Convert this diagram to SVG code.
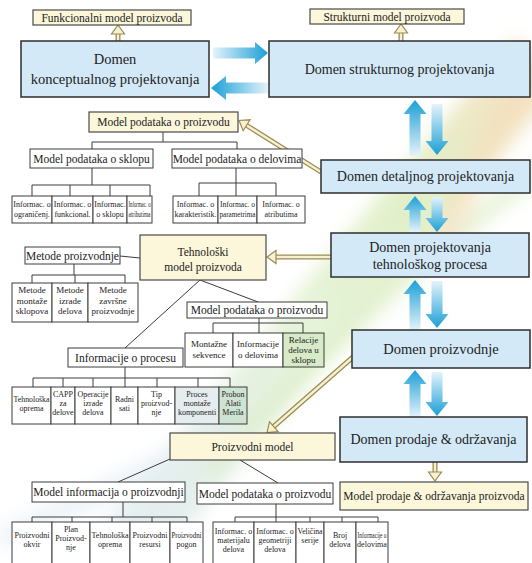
<svg xmlns="http://www.w3.org/2000/svg" xmlns:xlink="http://www.w3.org/1999/xlink" width="532" height="563" viewBox="0 0 532 563" font-family="'Liberation Serif', 'Times New Roman', serif">
  <defs>
    <style>
      text { font-family: "Liberation Serif", "Times New Roman", "DejaVu Serif", serif; fill: #222; text-anchor: middle; }
      .dom { fill: #d4e9f7; stroke: #2e2e2e; stroke-width: 1.5; }
      .ylw { fill: #fcf6da; stroke: #4a4a4a; stroke-width: 1.2; }
      .box { fill: #ffffff; stroke: #3c3c3c; stroke-width: 1; }
      .ln { fill: none; stroke: #3c3c3c; stroke-width: 1; }
      .t15 { font-size: 14.5px; }
      .t14 { font-size: 14px; }
      .t11 { font-size: 11.5px; }
      .t9 { font-size: 9px; }
      .t8 { font-size: 8px; }
      .dbl-o { fill: none; stroke: #9a8c52; stroke-width: 5; }
      .dbl-i { fill: none; stroke: #f7f0d2; stroke-width: 2.4; }
      .head { fill: #f7f0d2; stroke: #9a8c52; stroke-width: 1.2; stroke-linejoin: miter; }
    </style>
    <linearGradient id="gRight" x1="0" y1="0" x2="1" y2="0">
      <stop offset="0" stop-color="#e4f3fb"/>
      <stop offset="1" stop-color="#1b9fd6"/>
    </linearGradient>
    <linearGradient id="gLeft" x1="1" y1="0" x2="0" y2="0">
      <stop offset="0" stop-color="#e4f3fb"/>
      <stop offset="1" stop-color="#1b9fd6"/>
    </linearGradient>
    <linearGradient id="gUp" x1="0" y1="1" x2="0" y2="0">
      <stop offset="0" stop-color="#e4f3fb"/>
      <stop offset="1" stop-color="#1b9fd6"/>
    </linearGradient>
    <linearGradient id="gDown" x1="0" y1="0" x2="0" y2="1">
      <stop offset="0" stop-color="#e4f3fb"/>
      <stop offset="1" stop-color="#1b9fd6"/>
    </linearGradient>
    <linearGradient id="gSwoosh" gradientUnits="userSpaceOnUse" x1="120" y1="563" x2="532" y2="40">
      <stop offset="0" stop-color="#d6e4ef"/>
      <stop offset="0.45" stop-color="#d9edc6"/>
      <stop offset="0.7" stop-color="#d2e8ab"/>
      <stop offset="1" stop-color="#f5d2a4"/>
    </linearGradient>
    <filter id="soft" x="-20%" y="-20%" width="140%" height="140%">
      <feGaussianBlur stdDeviation="9"/>
    </filter>
    <!-- hollow arrowhead for the double-line links, tip at origin, pointing +x -->
    <path id="dh" class="head" d="M0,0 L-9,-6.5 L-9,6.5 Z"/>
  </defs>

  <rect width="532" height="563" fill="#ffffff"/>

  <!-- decorative background swoosh -->
  <g id="background" filter="url(#soft)" opacity="0.65">
    <path d="M110,570 C220,440 330,300 540,60" fill="none" stroke="url(#gSwoosh)" stroke-width="66"/>
    <path d="M210,470 C300,380 390,280 540,170" fill="none" stroke="#c6e3a0" stroke-width="16" opacity="0.7"/>
    <path d="M430,260 C470,190 500,120 540,60" fill="none" stroke="#f3c893" stroke-width="24" opacity="0.6"/>
    <path d="M0,540 C80,500 160,470 240,420" fill="none" stroke="#d4e3ee" stroke-width="20" opacity="0.7"/>
  </g>

  <!-- connectors -->
  <g id="connectors">
    <!-- blue exchange arrows between domains -->
    <path d="M213,47.5 H255 V42 L268,53 L255,64 V58.5 H213 Z" fill="url(#gRight)"/>
    <path d="M268,82.5 H226 V76 L211,88 L226,100 V93.5 H268 Z" fill="url(#gLeft)"/>

    <path d="M409.5,156 V114 H403.5 L415,100 L426.5,114 H420.5 V156 Z" fill="url(#gUp)"/>
    <path d="M431.5,104 V141 H425.5 L437,155 L448.5,141 H442.5 V104 Z" fill="url(#gDown)"/>

    <path d="M409.5,232 V210 H403.5 L415,196 L426.5,210 H420.5 V232 Z" fill="url(#gUp)"/>
    <path d="M431.5,197 V218 H425.5 L437,232 L448.5,218 H442.5 V197 Z" fill="url(#gDown)"/>

    <path d="M409.5,330 V294 H403.5 L415,280 L426.5,294 H420.5 V330 Z" fill="url(#gUp)"/>
    <path d="M431.5,281 V314 H425.5 L437,328 L448.5,314 H442.5 V281 Z" fill="url(#gDown)"/>

    <path d="M409.5,417 V384 H403.5 L415,370 L426.5,384 H420.5 V417 Z" fill="url(#gUp)"/>
    <path d="M431.5,372 V402 H425.5 L437,416 L448.5,402 H442.5 V372 Z" fill="url(#gDown)"/>

    <!-- double-line links from domains to models -->
    <path class="dbl-o" d="M118,41 V32"/><path class="dbl-i" d="M118,41 V32"/>
    <use xlink:href="#dh" transform="translate(118,25) rotate(-90)"/>

    <path class="dbl-o" d="M401,41 V31"/><path class="dbl-i" d="M401,41 V31"/>
    <use xlink:href="#dh" transform="translate(401,24) rotate(-90)"/>

    <path class="dbl-o" d="M321,172 L246,125"/><path class="dbl-i" d="M321,172 L246,125"/>
    <use xlink:href="#dh" transform="translate(239,120.5) rotate(212.2)"/>

    <path class="dbl-o" d="M331,257 H274"/><path class="dbl-i" d="M331,257 H274"/>
    <use xlink:href="#dh" transform="translate(267,257) rotate(180)"/>

    <path class="dbl-o" d="M353,357 L272,428"/><path class="dbl-i" d="M353,357 L272,428"/>
    <use xlink:href="#dh" transform="translate(267,432.5) rotate(138.9)"/>

    <path class="dbl-o" d="M435,462 V474"/><path class="dbl-i" d="M435,462 V474"/>
    <use xlink:href="#dh" transform="translate(435,481) rotate(90)"/>

    <!-- tree lines: product data model -->
    <path class="ln" d="M163,132 V142 M92,149 V142 H237 V149"/>
    <path class="ln" d="M92,168 V185 M32,196 V185 H150 V196 M70,185 V196 M110,185 V196"/>
    <path class="ln" d="M236,168 V183 M199,196 V183 H276 V196 M236,183 V196"/>

    <!-- tree lines: technological model -->
    <path class="ln" d="M120,256 L140,258"/>
    <path class="ln" d="M74,264 V275 M32,283 V275 H125 V283 M75,275 V283"/>
    <path class="ln" d="M200,280 L125,348 M200,280 L258,302"/>
    <path class="ln" d="M259,318 V323 M213,333 V323 H303 V333 M259,323 V333"/>
    <path class="ln" d="M125,367 V378 M33,387 V378 H230 V387 M63,378 V387 M93,378 V387 M125,378 V387 M157,378 V387 M198,378 V387"/>

    <!-- tree lines: production model -->
    <path class="ln" d="M170,459 L118,482 M240,460 L278,483"/>
    <path class="ln" d="M123,502 V517 M32,522 V517 H187 V522 M72,517 V522 M112,517 V522 M152,517 V522"/>
    <path class="ln" d="M276,504 V517 M235,522 V517 H378 V522 M276,517 V522 M310,517 V522 M342,517 V522"/>
  </g>

  <!-- domains -->
  <g id="domen-konceptualnog">
    <rect class="dom" x="21" y="41" width="188" height="56"/>
    <text class="t15" x="115" y="64">Domen</text>
    <text class="t15" x="115" y="84">konceptualnog projektovanja</text>
  </g>
  <g id="domen-strukturnog">
    <rect class="dom" x="269" y="41" width="261" height="56"/>
    <text class="t14" x="399.5" y="74">Domen strukturnog projektovanja</text>
  </g>
  <g id="domen-detaljnog">
    <rect class="dom" x="321" y="160" width="209" height="33"/>
    <text class="t14" x="425.5" y="181">Domen detaljnog projektovanja</text>
  </g>
  <g id="domen-tehnoloskog">
    <rect class="dom" x="331" y="233" width="198" height="44"/>
    <text class="t14" x="430" y="252">Domen projektovanja</text>
    <text class="t14" x="430" y="269">tehnološkog procesa</text>
  </g>
  <g id="domen-proizvodnje">
    <rect class="dom" x="352" y="330" width="178" height="38"/>
    <text class="t15" x="441" y="354">Domen proizvodnje</text>
  </g>
  <g id="domen-prodaje">
    <rect class="dom" x="340" y="417" width="187" height="45"/>
    <text class="t14" x="433.5" y="444">Domen prodaje &amp; održavanja</text>
  </g>

  <!-- models -->
  <g id="funkcionalni-model">
    <rect class="ylw" x="33" y="10" width="158" height="15"/>
    <text class="t11" x="112" y="21.5">Funkcionalni model proizvoda</text>
  </g>
  <g id="strukturni-model">
    <rect class="ylw" x="310" y="9" width="154" height="15"/>
    <text class="t11" x="387" y="20.5">Strukturni model proizvoda</text>
  </g>
  <g id="model-podataka-1">
    <rect class="ylw" x="89" y="112" width="149" height="20"/>
    <text class="t11" x="163.5" y="126">Model podataka o proizvodu</text>
  </g>
  <g id="model-sklopu">
    <rect class="box" x="30" y="149" width="123" height="19"/>
    <text class="t11" x="91.5" y="162.5">Model podataka o sklopu</text>
  </g>
  <g id="model-delovima">
    <rect class="box" x="172" y="149" width="130" height="19"/>
    <text class="t11" x="237" y="162.5">Model podataka o delovima</text>
  </g>
  <g id="sklop-deca">
    <rect class="box" x="12" y="196" width="40" height="27"/>
    <text class="t8" x="32" y="207">Informac. o</text><text class="t8" x="32" y="217">ograničenj.</text>
    <rect class="box" x="52" y="196" width="41" height="27"/>
    <text class="t8" x="72.5" y="207">Informac. o</text><text class="t8" x="72.5" y="217">funkcional.</text>
    <rect class="box" x="93" y="196" width="34" height="27"/>
    <text class="t8" x="110" y="207">Informac.</text><text class="t8" x="110" y="217">o sklopu</text>
    <rect class="box" x="127" y="196" width="25" height="27"/>
    <text class="t8" x="139.5" y="207" textLength="22" lengthAdjust="spacingAndGlyphs">Informac. o</text>
    <text class="t8" x="139.5" y="217" textLength="22" lengthAdjust="spacingAndGlyphs">atributima</text>
  </g>
  <g id="delovi-deca">
    <rect class="box" x="173" y="196" width="45" height="27"/>
    <text class="t8" x="195.5" y="207">Informac. o</text>
    <text class="t8" x="195.5" y="217" textLength="42" lengthAdjust="spacingAndGlyphs">karakteristik.</text>
    <rect class="box" x="218" y="196" width="39" height="27"/>
    <text class="t8" x="237.5" y="207" textLength="35" lengthAdjust="spacingAndGlyphs">Informac. o</text>
    <text class="t8" x="237.5" y="217" textLength="36" lengthAdjust="spacingAndGlyphs">parametrima</text>
    <rect class="box" x="257" y="196" width="48" height="27"/>
    <text class="t8" x="281" y="207">Informac. o</text><text class="t8" x="281" y="217">atributima</text>
  </g>

  <g id="tehnoloski-model">
    <rect class="ylw" x="140" y="235" width="126" height="45"/>
    <text class="t11" x="203" y="256">Tehnološki</text>
    <text class="t11" x="203" y="271">model proizvoda</text>
  </g>
  <g id="metode-proizvodnje">
    <rect class="box" x="25" y="247" width="95" height="17"/>
    <text class="t11" x="72.5" y="259.5">Metode proizvodnje</text>
  </g>
  <g id="metode-deca">
    <rect class="box" x="12" y="283" width="40" height="39"/>
    <text class="t9" x="32" y="293">Metode</text><text class="t9" x="32" y="303.5">montaže</text><text class="t9" x="32" y="314">sklopova</text>
    <rect class="box" x="52" y="283" width="36" height="39"/>
    <text class="t9" x="70" y="293">Metode</text><text class="t9" x="70" y="303.5">izrade</text><text class="t9" x="70" y="314">delova</text>
    <rect class="box" x="88" y="283" width="50" height="39"/>
    <text class="t9" x="113" y="293">Metode</text><text class="t9" x="113" y="303.5">završne</text><text class="t9" x="113" y="314">proizvodnje</text>
  </g>
  <g id="model-podataka-2">
    <rect class="box" x="187" y="302" width="140" height="16"/>
    <text class="t11" x="257" y="314">Model podataka o proizvodu</text>
  </g>
  <g id="model-podataka-2-deca">
    <rect class="box" x="185" y="333" width="48" height="34"/>
    <text class="t9" x="209" y="347">Montažne</text><text class="t9" x="209" y="358">sekvence</text>
    <rect class="box" x="233" y="333" width="50" height="34"/>
    <text class="t9" x="258" y="347">Informacije</text><text class="t9" x="258" y="358">o delovima</text>
    <rect class="box" x="283" y="333" width="41" height="34" style="fill:#d7ebc9"/>
    <text class="t9" x="303.5" y="343">Relacije</text><text class="t9" x="303.5" y="353">delova u</text><text class="t9" x="303.5" y="363">sklopu</text>
  </g>
  <g id="informacije-o-procesu">
    <rect class="box" x="68" y="348" width="115" height="19"/>
    <text class="t11" x="125.5" y="361.5">Informacije o procesu</text>
  </g>
  <g id="proces-deca">
    <rect class="box" x="12" y="387" width="39" height="37"/>
    <text class="t8" x="31.5" y="402" textLength="36" lengthAdjust="spacingAndGlyphs">Tehnološka</text><text class="t8" x="31.5" y="411">oprema</text>
    <rect class="box" x="51" y="387" width="24" height="37"/>
    <text class="t8" x="63" y="397">CAPP</text><text class="t8" x="63" y="406">za</text><text class="t8" x="63" y="415">delove</text>
    <rect class="box" x="75" y="387" width="36" height="37"/>
    <text class="t8" x="93" y="397">Operacije</text><text class="t8" x="93" y="406">izrade</text><text class="t8" x="93" y="415">delova</text>
    <rect class="box" x="111" y="387" width="27" height="37"/>
    <text class="t8" x="124.5" y="402">Radni</text><text class="t8" x="124.5" y="411">sati</text>
    <rect class="box" x="138" y="387" width="37" height="37"/>
    <text class="t8" x="156.5" y="397">Tip</text><text class="t8" x="156.5" y="406">proizvod-</text><text class="t8" x="156.5" y="415">nje</text>
    <rect class="box" x="175" y="387" width="44" height="37" style="fill:#e6edef"/>
    <text class="t8" x="197" y="397">Proces</text><text class="t8" x="197" y="406">montaže</text><text class="t8" x="197" y="415">komponenti</text>
    <rect class="box" x="219" y="387" width="28" height="37" style="fill:#cfe3d2"/>
    <text class="t8" x="233" y="397">Probon</text><text class="t8" x="233" y="406">Alati</text><text class="t8" x="233" y="415">Merila</text>
  </g>

  <g id="proizvodni-model">
    <rect class="ylw" x="170" y="433" width="165" height="27"/>
    <text class="t11" x="252.5" y="450.5">Proizvodni model</text>
  </g>
  <g id="model-prodaje">
    <rect class="ylw" x="340" y="482" width="188" height="28"/>
    <text class="t11" x="434" y="500">Model prodaje &amp; održavanja proizvoda</text>
  </g>
  <g id="model-informacija">
    <rect class="box" x="32" y="482" width="153" height="20"/>
    <text class="t11" x="108.5" y="496">Model informacija o proizvodnji</text>
  </g>
  <g id="model-podataka-3">
    <rect class="box" x="197" y="483" width="136" height="21"/>
    <text class="t11" x="265" y="497.5">Model podataka o proizvodu</text>
  </g>
  <g id="informacija-deca">
    <rect class="box" x="12" y="522" width="40" height="46"/>
    <text class="t8" x="32" y="538">Proizvodni</text><text class="t8" x="32" y="547">okvir</text>
    <rect class="box" x="52" y="522" width="38" height="46"/>
    <text class="t8" x="71" y="532">Plan</text><text class="t8" x="71" y="541">Proizvod-</text><text class="t8" x="71" y="550">nje</text>
    <rect class="box" x="90" y="522" width="40" height="46"/>
    <text class="t8" x="110" y="538" textLength="37" lengthAdjust="spacingAndGlyphs">Tehnološka</text><text class="t8" x="110" y="547">oprema</text>
    <rect class="box" x="130" y="522" width="40" height="46"/>
    <text class="t8" x="150" y="538">Proizvodni</text><text class="t8" x="150" y="547">resursi</text>
    <rect class="box" x="170" y="522" width="33" height="46"/>
    <text class="t8" x="186.5" y="538" textLength="30" lengthAdjust="spacingAndGlyphs">Proizvodni</text><text class="t8" x="186.5" y="547">pogon</text>
  </g>
  <g id="podataka-deca">
    <rect class="box" x="213" y="522" width="41" height="46"/>
    <text class="t8" x="233.5" y="534">Informac. o</text><text class="t8" x="233.5" y="543">materijalu</text><text class="t8" x="233.5" y="552">delova</text>
    <rect class="box" x="254" y="522" width="42" height="46"/>
    <text class="t8" x="275" y="534">Informac. o</text><text class="t8" x="275" y="543">geometriji</text><text class="t8" x="275" y="552">delova</text>
    <rect class="box" x="296" y="522" width="28" height="46"/>
    <text class="t8" x="310" y="534" textLength="25" lengthAdjust="spacingAndGlyphs">Veličina</text><text class="t8" x="310" y="543">serije</text>
    <rect class="box" x="324" y="522" width="32" height="46"/>
    <text class="t8" x="340" y="538">Broj</text><text class="t8" x="340" y="547">delova</text>
    <rect class="box" x="356" y="522" width="32" height="46"/>
    <text class="t8" x="372" y="538" textLength="29" lengthAdjust="spacingAndGlyphs">Informacije o</text><text class="t8" x="372" y="547">delovima</text>
  </g>
</svg>
